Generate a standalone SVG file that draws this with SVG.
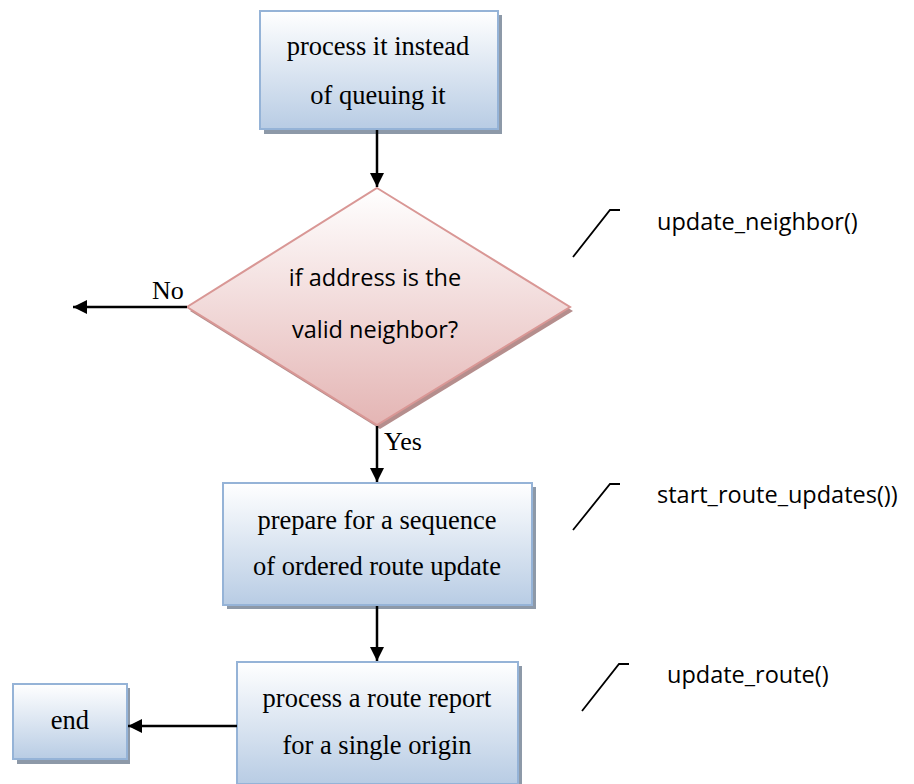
<svg xmlns="http://www.w3.org/2000/svg" width="914" height="784" viewBox="0 0 914 784">
  <defs>
    <linearGradient id="blueFill" x1="0" y1="0" x2="0" y2="1">
      <stop offset="0" stop-color="#ffffff"/>
      <stop offset="1" stop-color="#b8cce4"/>
    </linearGradient>
    <linearGradient id="pinkFill" x1="0" y1="0" x2="0" y2="1">
      <stop offset="0" stop-color="#ffffff"/>
      <stop offset="1" stop-color="#e4b5b4"/>
    </linearGradient>
    <marker id="arrow" viewBox="0 0 14 14" refX="14" refY="7" markerWidth="14" markerHeight="14" markerUnits="userSpaceOnUse" orient="auto">
      <path d="M0,0 L14,7 L0,14 Z" fill="#000"/>
    </marker>
    <style>
      .box { fill: url(#blueFill); stroke: #95b3d7; stroke-width: 2; }
      .shadow { fill: #8d99a8; }
      .diamond { fill: url(#pinkFill); stroke: #d99795; stroke-width: 2; }
      .dshadow { fill: #b58e8d; }
      .serif { font-family: "Liberation Serif", "Times New Roman", serif; font-size: 26.5px; fill: #000; text-anchor: middle; }
      .sans { font-family: "Open Sans", "Liberation Sans", sans-serif; font-size: 23.5px; fill: #000; }
      .label { font-family: "Liberation Serif", "Times New Roman", serif; font-size: 26px; fill: #000; }
      .conn { stroke: #000; stroke-width: 2.5; fill: none; marker-end: url(#arrow); }
      .callout { stroke: #000; stroke-width: 1.8; fill: none; }
    </style>
  </defs>

  <!-- process it instead of queuing it -->
  <g id="node-process-immediately">
    <rect class="shadow" x="264" y="15" width="238" height="119"/>
    <rect class="box" x="260" y="11" width="238" height="118"/>
    <text class="serif" x="378" y="55">process it instead</text>
    <text class="serif" x="378" y="104">of queuing it</text>
  </g>

  <!-- decision -->
  <g id="node-valid-neighbor">
    <polygon class="dshadow" points="380,192 573,311 380,429 190,311"/>
    <polygon class="diamond" points="377,188 570,307 377,425 187,307"/>
    <text class="sans" x="375" y="286" text-anchor="middle" font-size="24">if address is the</text>
    <text class="sans" x="375" y="338" text-anchor="middle" font-size="24">valid neighbor?</text>
  </g>

  <!-- prepare for a sequence -->
  <g id="node-prepare">
    <rect class="shadow" x="227" y="487" width="309" height="122"/>
    <rect class="box" x="223" y="483" width="309" height="122"/>
    <text class="serif" x="377" y="529">prepare for a sequence</text>
    <text class="serif" x="377" y="575">of ordered route update</text>
  </g>

  <!-- process a route report -->
  <g id="node-route-report">
    <rect class="shadow" x="241" y="666" width="281" height="122"/>
    <rect class="box" x="237" y="662" width="281" height="122"/>
    <text class="serif" x="377" y="707">process a route report</text>
    <text class="serif" x="377" y="754">for a single origin</text>
  </g>

  <!-- end -->
  <g id="node-end">
    <rect class="shadow" x="17" y="688" width="113" height="76"/>
    <rect class="box" x="13" y="684" width="114" height="75"/>
    <text class="serif" x="70" y="729">end</text>
  </g>

  <!-- connectors -->
  <g id="connectors">
    <line class="conn" x1="377" y1="130" x2="377" y2="187"/>
    <line class="conn" x1="187" y1="307" x2="73" y2="307"/>
    <line class="conn" x1="377" y1="426" x2="377" y2="482"/>
    <line class="conn" x1="377" y1="606" x2="377" y2="661"/>
    <line class="conn" x1="237" y1="726" x2="128" y2="726"/>
    <text class="label" x="152" y="299">No</text>
    <text class="label" x="384" y="450">Yes</text>
  </g>

  <!-- function call annotations -->
  <g id="note-update-neighbor">
    <polyline class="callout" points="573,257 610,210 620,210"/>
    <text class="sans" x="657" y="230">update_neighbor()</text>
  </g>
  <g id="note-start-route-updates">
    <polyline class="callout" points="573,530 610,484 620,484"/>
    <text class="sans" x="657" y="503">start_route_updates())</text>
  </g>
  <g id="note-update-route">
    <polyline class="callout" points="582,711 619,664 629,664"/>
    <text class="sans" x="667" y="683">update_route()</text>
  </g>
</svg>
